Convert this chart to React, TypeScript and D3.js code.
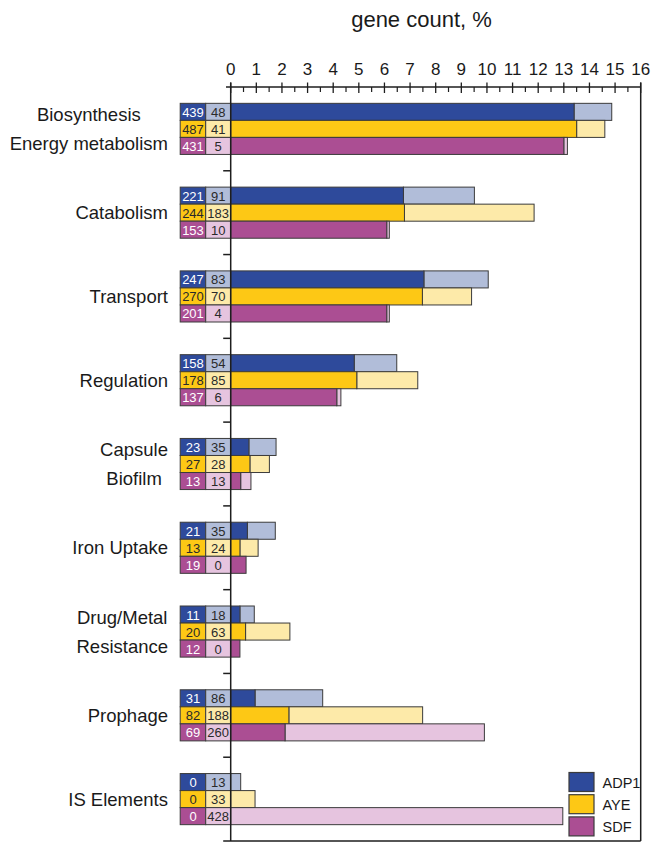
import React, { useEffect, useRef } from "react";
import * as d3 from "d3";

const categories = [
  "Biosynthesis\nEnergy metabolism",
  "Catabolism",
  "Transport",
  "Regulation",
  "Capsule\nBiofilm",
  "Iron Uptake",
  "Drug/Metal\nResistance",
  "Prophage",
  "IS Elements",
];
const series = ["ADP1", "AYE", "SDF"];

// gene counts shown in the left boxes
const coreCountADP1 = [439, 221, 247, 158, 23, 21, 11, 31, 0];
const coreCountAYE = [487, 244, 270, 178, 27, 13, 20, 82, 0];
const coreCountSDF = [431, 153, 201, 137, 13, 19, 12, 69, 0];
const extraCountADP1 = [48, 91, 83, 54, 35, 35, 18, 86, 13];
const extraCountAYE = [41, 183, 70, 85, 28, 24, 63, 188, 33];
const extraCountSDF = [5, 10, 4, 6, 13, 0, 0, 260, 428];

// percentages (dark part, and full length)
const corePctADP1 = [13.4, 6.74, 7.54, 4.82, 0.71, 0.65, 0.36, 0.95, 0];
const corePctAYE = [13.5, 6.78, 7.48, 4.92, 0.75, 0.36, 0.58, 2.27, 0];
const corePctSDF = [13.0, 6.09, 6.09, 4.14, 0.39, 0.6, 0.36, 2.12, 0];
const totalPctADP1 = [14.87, 9.51, 10.05, 6.48, 1.77, 1.74, 0.92, 3.59, 0.39];
const totalPctAYE = [14.6, 11.84, 9.4, 7.3, 1.51, 1.07, 2.31, 7.49, 0.95];
const totalPctSDF = [13.14, 6.19, 6.19, 4.3, 0.79, 0.6, 0.36, 9.9, 12.96];

const xTicks = d3.range(0, 17);
const xMinorTicks = d3.range(0.5, 16, 1);

const darkColors = ["#2e4a9b", "#fdc815", "#ab4e93"];
const lightColors = ["#b1bdd9", "#fdeaa9", "#e6c4df"];
const darkText = ["#ffffff", "#2a2a2a", "#ffffff"];

const FONT = "'Liberation Sans', Arial, Helvetica, sans-serif";

export default function App() {
  const ref = useRef<SVGSVGElement | null>(null);

  useEffect(() => {
    const svg = d3.select(ref.current);
    svg.selectAll("*").remove();

    const x = d3.scaleLinear().domain([0, 16]).range([230.7, 640.7]);
    const y = d3
      .scaleBand<string>()
      .domain(categories)
      .range([87, 841])
      .paddingInner(0.39)
      .paddingOuter(0.195);
    const yRow = d3.scaleBand<string>().domain(series).range([0, y.bandwidth()]).padding(0);

    const coreCounts = [coreCountADP1, coreCountAYE, coreCountSDF];
    const extraCounts = [extraCountADP1, extraCountAYE, extraCountSDF];
    const corePct = [corePctADP1, corePctAYE, corePctSDF];
    const totalPct = [totalPctADP1, totalPctAYE, totalPctSDF];

    const stroke = "#3b3b3b";
    const axisColor = "#1e1e1e";

    // title
    svg
      .append("text")
      .attr("x", 421.5)
      .attr("y", 27)
      .attr("text-anchor", "middle")
      .attr("font-family", FONT)
      .attr("font-size", 22)
      .attr("fill", "#1a1a1a")
      .text("gene count, %");

    // bars
    categories.forEach((cat, ci) => {
      const g = svg.append("g").attr("transform", `translate(0,${y(cat)})`);
      series.forEach((s, si) => {
        const ry = yRow(s)!;
        const h = yRow.bandwidth();
        const x0 = x(0);
        // count boxes
        g.append("rect")
          .attr("x", x0 - 50.5)
          .attr("y", ry)
          .attr("width", 25.5)
          .attr("height", h)
          .attr("fill", darkColors[si])
          .attr("stroke", stroke)
          .attr("stroke-width", 1);
        g.append("rect")
          .attr("x", x0 - 25)
          .attr("y", ry)
          .attr("width", 25)
          .attr("height", h)
          .attr("fill", lightColors[si])
          .attr("stroke", stroke)
          .attr("stroke-width", 1);
        g.append("text")
          .attr("x", x0 - 37.7)
          .attr("y", ry + h / 2 + 0.5)
          .attr("text-anchor", "middle")
          .attr("dominant-baseline", "central")
          .attr("font-family", FONT)
          .attr("font-size", 13)
          .attr("fill", darkText[si])
          .text(String(coreCounts[si][ci]));
        g.append("text")
          .attr("x", x0 - 12.5)
          .attr("y", ry + h / 2 + 0.5)
          .attr("text-anchor", "middle")
          .attr("dominant-baseline", "central")
          .attr("font-family", FONT)
          .attr("font-size", 13)
          .attr("fill", "#2a2a2a")
          .text(String(extraCounts[si][ci]));
        // bars
        const c = corePct[si][ci];
        const t = totalPct[si][ci];
        if (t > c) {
          g.append("rect")
            .attr("x", x(c))
            .attr("y", ry)
            .attr("width", x(t) - x(c))
            .attr("height", h)
            .attr("fill", lightColors[si])
            .attr("stroke", stroke)
            .attr("stroke-width", 1);
        }
        if (c > 0) {
          g.append("rect")
            .attr("x", x(0))
            .attr("y", ry)
            .attr("width", x(c) - x(0))
            .attr("height", h)
            .attr("fill", darkColors[si])
            .attr("stroke", stroke)
            .attr("stroke-width", 1);
        }
      });

      // category label
      const lines = cat.split("\n");
      const cy = y(cat)! + y.bandwidth() / 2;
      const lineGap = 29;
      const labelG = svg.append("g");
      const texts = lines.map((ln, li) =>
        labelG
          .append("text")
          .attr("y", cy + (li - (lines.length - 1) / 2) * lineGap)
          .attr("dominant-baseline", "central")
          .attr("font-family", FONT)
          .attr("font-size", 18.5)
          .attr("fill", "#1a1a1a")
          .text(ln)
      );
      const widths = texts.map((tx) => (tx.node() as SVGTextElement).getComputedTextLength());
      const maxW = d3.max(widths) || 0;
      const right = 168;
      texts.forEach((tx) => {
        tx.attr("x", right - maxW / 2).attr("text-anchor", "middle");
      });
    });

    // top axis
    const axisG = svg.append("g");
    axisG
      .append("line")
      .attr("x1", 226)
      .attr("x2", x(16))
      .attr("y1", 87)
      .attr("y2", 87)
      .attr("stroke", axisColor)
      .attr("stroke-width", 1.5);
    axisG
      .selectAll("line.major")
      .data(xTicks)
      .enter()
      .append("line")
      .attr("class", "major")
      .attr("x1", (d) => x(d))
      .attr("x2", (d) => x(d))
      .attr("y1", 82.5)
      .attr("y2", 93)
      .attr("stroke", axisColor)
      .attr("stroke-width", 1.3);
    axisG
      .selectAll("line.minor")
      .data(xMinorTicks)
      .enter()
      .append("line")
      .attr("class", "minor")
      .attr("x1", (d) => x(d))
      .attr("x2", (d) => x(d))
      .attr("y1", 87)
      .attr("y2", 92)
      .attr("stroke", axisColor)
      .attr("stroke-width", 1.2);
    axisG
      .selectAll("text.tick")
      .data(xTicks)
      .enter()
      .append("text")
      .attr("class", "tick")
      .attr("x", (d) => x(d))
      .attr("y", 75)
      .attr("text-anchor", "middle")
      .attr("font-family", FONT)
      .attr("font-size", 17)
      .attr("fill", "#1a1a1a")
      .text((d) => String(d));

    // frame: left axis, right line, bottom line
    svg
      .append("line")
      .attr("x1", x(0))
      .attr("x2", x(0))
      .attr("y1", 82.5)
      .attr("y2", 841)
      .attr("stroke", axisColor)
      .attr("stroke-width", 1.5);
    svg
      .append("line")
      .attr("x1", x(16))
      .attr("x2", x(16))
      .attr("y1", 82.5)
      .attr("y2", 841)
      .attr("stroke", axisColor)
      .attr("stroke-width", 1.5);
    svg
      .append("line")
      .attr("x1", x(0) - 7.5)
      .attr("x2", x(16))
      .attr("y1", 841)
      .attr("y2", 841)
      .attr("stroke", axisColor)
      .attr("stroke-width", 1.5);

    // left ticks between groups
    const step = y.step();
    const boundaries = d3.range(1, categories.length).map((k) => 87 + k * step);
    svg
      .selectAll("line.ytick")
      .data(boundaries)
      .enter()
      .append("line")
      .attr("class", "ytick")
      .attr("x1", x(0) - 7.5)
      .attr("x2", x(0))
      .attr("y1", (d) => d)
      .attr("y2", (d) => d)
      .attr("stroke", axisColor)
      .attr("stroke-width", 1.5);

    // legend
    const lg = svg.append("g").attr("transform", "translate(569,772.5)");
    series.forEach((s, si) => {
      lg.append("rect")
        .attr("x", 0)
        .attr("y", si * 22.2)
        .attr("width", 25)
        .attr("height", 19)
        .attr("fill", darkColors[si])
        .attr("stroke", stroke)
        .attr("stroke-width", 1.2);
      lg.append("text")
        .attr("x", 33.5)
        .attr("y", si * 22.2 + 10)
        .attr("dominant-baseline", "central")
        .attr("font-family", FONT)
        .attr("font-size", 14.5)
        .attr("fill", "#1a1a1a")
        .text(s);
    });
  }, []);

  return (
    <div style={{ position: "absolute", left: 0, top: 0 }}>
      <svg ref={ref} width={651} height={843} style={{ display: "block", background: "#fff" }} />
    </div>
  );
}
